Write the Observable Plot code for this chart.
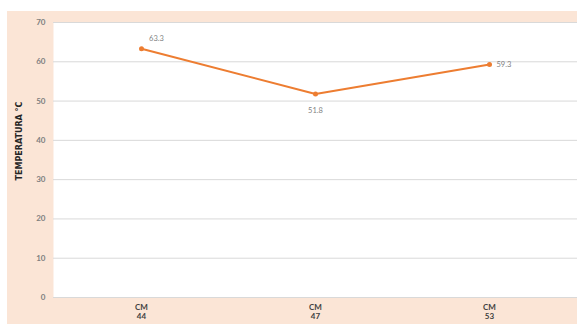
<!DOCTYPE html>
<html>
<head>
<meta charset="utf-8">
<script src="https://cdn.jsdelivr.net/npm/d3@7"></script>
<script src="https://cdn.jsdelivr.net/npm/@observablehq/plot@0.6"></script>
<style>
  html, body { margin: 0; padding: 0; background: #ffffff; }
  #chart { position: absolute; left: 7px; top: 11px; }
  #chart svg { background: #fbe5d6; display: block; }
</style>
</head>
<body>
<div id="chart"></div>
<script>
// Mixes and their measured temperature
const mixes = ["CM\n44", "CM\n47", "CM\n53"];
const temps = [63.3, 51.8, 59.3];
const yTicks = [0, 10, 20, 30, 40, 50, 60, 70];
const yTitle = "TEMPERATURA °C";

const data = mixes.map((m, i) => ({mix: m, temp: temps[i]}));
const orange = "#ed7d31";
const font = "Lato, 'Open Sans', sans-serif";

const chart = Plot.plot({
  width: 570,
  height: 313,
  marginLeft: 46,
  marginRight: 0,
  marginTop: 11,
  marginBottom: 27,
  style: {fontFamily: font, fontSize: "8px", color: "#595959", background: "#fbe5d6"},
  x: {type: "point", domain: mixes, padding: 0.5},
  y: {domain: [0, 70], ticks: yTicks},
  marks: [
    Plot.frame({fill: "#ffffff", stroke: null}),
    Plot.gridY(yTicks, {stroke: "#d9d9d9", strokeOpacity: 1, strokeWidth: 1}),
    Plot.axisY(yTicks, {tickSize: 0, tickPadding: 8, label: null, fontWeight: "bold", fill: "#7f7f7f"}),
    Plot.axisX({tickSize: 0, tickPadding: 6, label: null, fontWeight: "bold", fill: "#404040", lineHeight: 1.15}),
    Plot.text([yTitle], {frameAnchor: "left", textAnchor: "middle", dx: -34, dy: -19, rotate: -90, fontWeight: "bold", fill: "#262626", fontSize: 8, fontFamily: "'DejaVu Sans', sans-serif"}),
    Plot.line(data, {x: "mix", y: "temp", stroke: orange, strokeWidth: 2}),
    Plot.dot(data, {x: "mix", y: "temp", r: 2.5, fill: orange, stroke: null}),
    Plot.text(data.filter((d, i) => i === 0), {x: "mix", y: "temp", text: d => d.temp.toFixed(1), dx: 15, dy: -10, fill: "#7f7f7f", fontSize: 7.5}),
    Plot.text(data.filter((d, i) => i === 1), {x: "mix", y: "temp", text: d => d.temp.toFixed(1), dy: 17, fill: "#7f7f7f", fontSize: 7.5}),
    Plot.text(data.filter((d, i) => i === 2), {x: "mix", y: "temp", text: d => d.temp.toFixed(1), dx: 7, textAnchor: "start", fill: "#7f7f7f", fontSize: 7.5})
  ]
});
document.getElementById("chart").appendChild(chart);
</script>
</body>
</html>
